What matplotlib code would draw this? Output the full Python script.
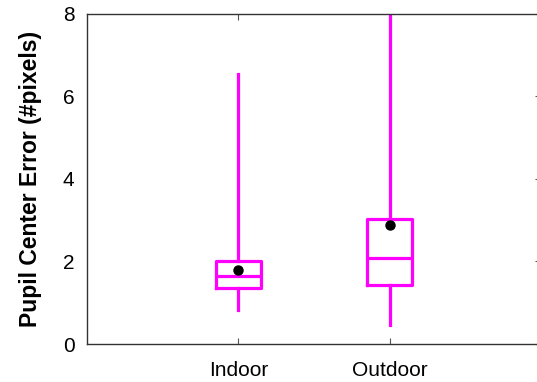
import matplotlib
matplotlib.use("Agg")
import matplotlib.pyplot as plt

plt.rcParams["font.family"] = ["Liberation Sans", "DejaVu Sans"]

categories = ["Indoor", "Outdoor"]
whis_low = [0.82, 0.46]
q1 = [1.35, 1.43]
median = [1.64, 2.07]
q3 = [2.01, 3.02]
whis_high = [6.54, 8.5]
mean = [1.79, 2.87]

stats = []
for i, name in enumerate(categories):
    stats.append({
        "label": name,
        "whislo": whis_low[i], "q1": q1[i], "med": median[i],
        "q3": q3[i], "whishi": whis_high[i], "mean": mean[i],
        "fliers": [],
    })

fig = plt.figure(figsize=(5.37, 3.82), dpi=100)
ax = fig.add_axes([87 / 537, 1 - 344 / 382, (541 - 87) / 537, (344 - 13.5) / 382])

magenta = "#ff00ff"
lw = 2.3
ax.bxp(stats, positions=[1, 2], widths=0.3, showmeans=True, showcaps=False,
       boxprops=dict(color=magenta, linewidth=lw),
       medianprops=dict(color=magenta, linewidth=lw),
       whiskerprops=dict(color=magenta, linewidth=lw),
       meanprops=dict(marker="o", markerfacecolor="black",
                      markeredgecolor="black", markersize=6.5))

ax.set_xlim(0, 3)
ax.set_ylim(0, 8)
ax.set_xticks([1, 2])
ax.set_xticklabels(categories, fontsize=15)
ax.set_yticks([0, 2, 4, 6, 8])
ax.set_yticklabels(["0", "2", "4", "6", "8"], fontsize=15)
ax.tick_params(axis="x", direction="in", top=True, length=4, width=0.8,
               color="#555555", pad=12)
ax.tick_params(axis="y", direction="in", left=False, right=True, labelleft=True,
               length=4, width=0.8, color="#555555", pad=9)
ax.spines["right"].set_visible(False)
for s in ["left", "top", "bottom"]:
    ax.spines[s].set_color("#333333")
    ax.spines[s].set_linewidth(1.0)

ax.set_ylabel("Pupil Center Error (#pixels)", fontsize=16.5, fontweight="bold",
              labelpad=15)

fig.savefig("out.png", dpi=100)
